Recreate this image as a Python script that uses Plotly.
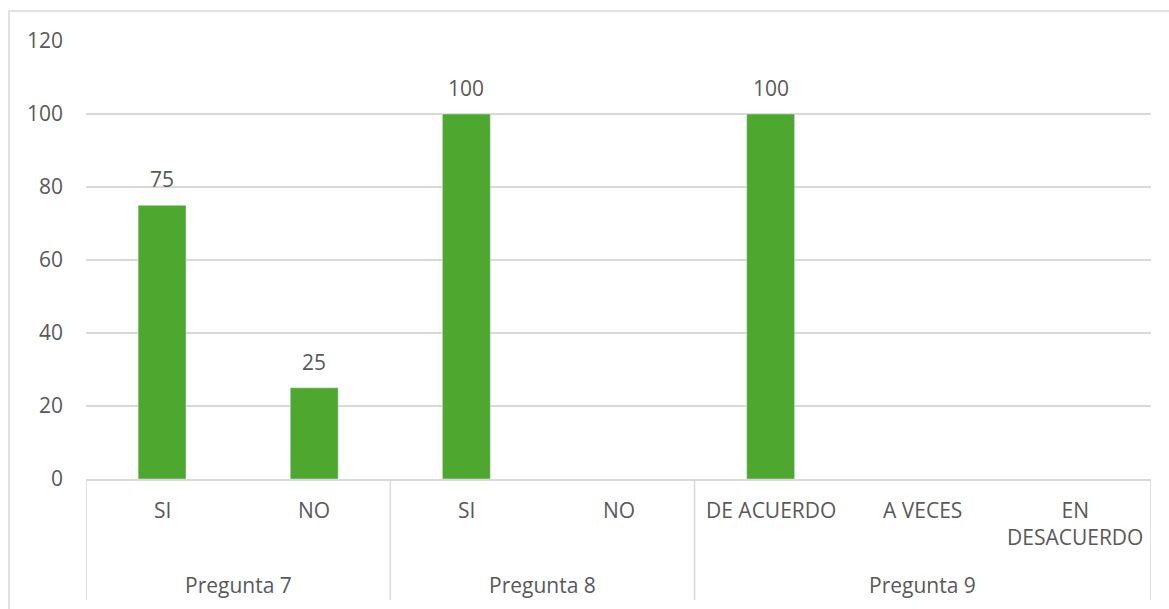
import plotly.graph_objects as go

groups = ["Pregunta 7", "Pregunta 8", "Pregunta 9"]
group_sizes = [2, 2, 3]
labels = ["SI", "NO", "SI", "NO", "DE ACUERDO", "A VECES", "EN<br>DESACUERDO"]
values = [75, 25, 100, None, 100, None, None]

GREEN = "#4EA72E"
TXT = "#595959"
GRID = "#D9D9D9"
FONT = "Open Sans"
FS = 21

x = list(range(len(labels)))
fig = go.Figure(go.Bar(x=x, y=values, marker_color=GREEN, width=0.315,
                       hoverinfo="skip"))

ann = []
# data labels
for xi, v in zip(x, values):
    if v is not None:
        ann.append(dict(x=xi, y=v, xref="x", yref="y", text=str(v), showarrow=False,
                        yanchor="bottom", yshift=10, font=dict(family=FONT, size=FS, color=TXT)))
# category labels
for xi, lab in zip(x, labels):
    ann.append(dict(x=xi, y=-0.035, xref="x", yref="paper", text=lab, showarrow=False,
                    yanchor="top", font=dict(family=FONT, size=FS, color=TXT)))
# group labels and separators
shapes = []
start = 0
bounds = [-0.5]
for g, n in zip(groups, group_sizes):
    center = start + (n - 1) / 2
    ann.append(dict(x=center, y=-0.242, xref="x", yref="paper", text=g, showarrow=False,
                    yanchor="middle", font=dict(family=FONT, size=FS, color=TXT)))
    start += n
    bounds.append(start - 0.5)
for b in bounds:
    shapes.append(dict(type="line", xref="x", yref="paper", x0=b, x1=b, y0=0, y1=-0.276,
                       line=dict(color=GRID, width=1.5)))
# chart border
shapes.append(dict(type="rect", xref="paper", yref="paper", x0=-0.0723, x1=1.2, y0=-0.5, y1=1.0685,
                   line=dict(color=GRID, width=1.5), layer="below"))

fig.update_layout(
    width=1169, height=609,
    margin=dict(l=86, r=18, t=41, b=130),
    plot_bgcolor="white", paper_bgcolor="white",
    showlegend=False,
    annotations=ann, shapes=shapes,
    xaxis=dict(range=[-0.5, 6.5], showticklabels=False, showgrid=False, zeroline=False,
               showline=True, linecolor=GRID, linewidth=1.5, ticks=""),
    yaxis=dict(range=[0, 120], dtick=20, showgrid=True, gridcolor=GRID, gridwidth=1.5,
               zeroline=False, showline=False, ticks="", ticklabelstandoff=22,
               tickfont=dict(family=FONT, size=FS, color=TXT)),
)
fig.write_html("out.html")
